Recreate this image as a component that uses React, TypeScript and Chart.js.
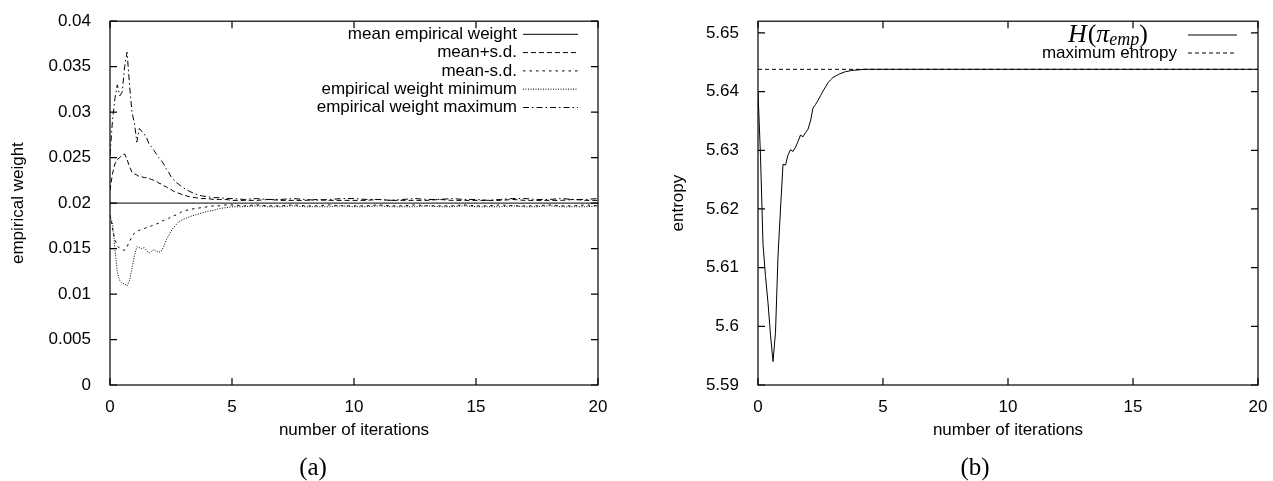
import React, { useEffect, useRef } from "react";
import { Chart, registerables } from "chart.js";
Chart.register(...registerables);

const FONT = "'Liberation Sans', Arial, Helvetica, sans-serif";
const SERIF = "'Liberation Serif', 'DejaVu Serif', serif";

// ---------- data ----------
const iterations = [
  0, 0.1, 0.2, 0.3, 0.4, 0.5, 0.6, 0.7, 0.8, 0.9, 1.0, 1.1, 1.2, 1.3, 1.4, 1.5, 1.6, 1.7, 1.8, 1.9,
  2.0, 2.1, 2.2, 2.3, 2.4, 2.5, 2.6, 2.7, 2.8, 2.9, 3.0, 3.25, 3.5, 3.75, 4.0, 4.25, 4.5, 4.75, 5.0,
  5.5, 6, 6.5, 7, 7.5, 8, 8.5, 9, 9.5, 10, 10.5, 11, 11.5, 12, 12.5, 13, 13.5, 14, 14.5, 15,
  15.5, 16, 16.5, 17, 17.5, 18, 18.5, 19, 19.5, 20,
];

const meanX = [0, 20];
const meanWeight = [0.02, 0.02];

const meanPlusSd = [
  0.0214, 0.0232, 0.0243, 0.0248, 0.025, 0.0253, 0.0254, 0.0248, 0.024, 0.0234, 0.0232, 0.0231, 0.0229,
  0.0229, 0.0228, 0.0228, 0.0227, 0.0226, 0.0225, 0.0224, 0.0222, 0.0221, 0.0219, 0.0218, 0.0216, 0.0215,
  0.0213, 0.0212, 0.0211, 0.021, 0.0209, 0.0207, 0.0206, 0.0205, 0.0205, 0.0204, 0.0204, 0.0204, 0.0203,
  0.0203, 0.0203, 0.0204, 0.0203, 0.0203, 0.0203, 0.0204, 0.0203, 0.0203, 0.0203, 0.0203, 0.0204, 0.0203,
  0.0203, 0.0203, 0.0203, 0.0204, 0.0203, 0.0203, 0.0203, 0.0203, 0.0203, 0.0204, 0.0203, 0.0203, 0.0203,
  0.0203, 0.0204, 0.0203, 0.0203,
];

const meanMinusSd = [
  0.0187, 0.0172, 0.016, 0.0153, 0.015, 0.0149, 0.0148, 0.0152, 0.0158, 0.0163, 0.0167, 0.0169, 0.017,
  0.0171, 0.0172, 0.0173, 0.0174, 0.0175, 0.0176, 0.0177, 0.0178, 0.018, 0.0181, 0.0182, 0.0183, 0.0185,
  0.0186, 0.0187, 0.0188, 0.019, 0.0191, 0.0193, 0.0194, 0.0195, 0.0196, 0.0197, 0.0197, 0.0198, 0.0198,
  0.0197, 0.0198, 0.0197, 0.0197, 0.0198, 0.0197, 0.0197, 0.0198, 0.0197, 0.0197, 0.0197, 0.0198, 0.0197,
  0.0197, 0.0198, 0.0197, 0.0197, 0.0197, 0.0198, 0.0197, 0.0197, 0.0198, 0.0197, 0.0197, 0.0197, 0.0198,
  0.0197, 0.0197, 0.0198, 0.0197,
];

const weightMin = [
  0.0186, 0.0178, 0.015, 0.0124, 0.0115, 0.0112, 0.0111, 0.0109, 0.0115, 0.0128, 0.0142, 0.0152, 0.0151,
  0.015, 0.0151, 0.0148, 0.0145, 0.0147, 0.0149, 0.0147, 0.0146, 0.0147, 0.0152, 0.0159, 0.0164, 0.0169,
  0.0173, 0.0176, 0.0179, 0.0181, 0.0182, 0.0185, 0.0187, 0.0189, 0.0191, 0.0192, 0.0194, 0.0195, 0.0196,
  0.0196, 0.0197, 0.0196, 0.0196, 0.0197, 0.0196, 0.0196, 0.0196, 0.0197, 0.0196, 0.0196, 0.0197, 0.0196,
  0.0196, 0.0196, 0.0197, 0.0196, 0.0196, 0.0197, 0.0196, 0.0196, 0.0196, 0.0197, 0.0196, 0.0196, 0.0197,
  0.0196, 0.0196, 0.0196, 0.0197,
];

const weightMax = [
  0.0253, 0.029, 0.0315, 0.033, 0.0318, 0.0322, 0.035, 0.0366, 0.033, 0.03, 0.0288, 0.0267, 0.0282,
  0.0279, 0.0276, 0.0272, 0.0265, 0.0262, 0.0258, 0.0254, 0.025, 0.0247, 0.0243, 0.0238, 0.0234, 0.0229,
  0.0226, 0.0223, 0.0221, 0.0219, 0.0217, 0.0213, 0.021, 0.0208, 0.0207, 0.0206, 0.0206, 0.0205, 0.0205,
  0.0204, 0.0205, 0.0204, 0.0204, 0.0205, 0.0204, 0.0203, 0.0204, 0.0205, 0.0205, 0.0204, 0.0204, 0.0203,
  0.0204, 0.0205, 0.0204, 0.0204, 0.0205, 0.0204, 0.0204, 0.0203, 0.0204, 0.0205, 0.0205, 0.0204, 0.0204,
  0.0205, 0.0204, 0.0204, 0.0205,
];

const entropy = [
  5.64, 5.629, 5.614, 5.6085, 5.604, 5.5985, 5.594, 5.599, 5.612, 5.62, 5.6276, 5.6275, 5.6292, 5.6301,
  5.6298, 5.6305, 5.6315, 5.6326, 5.6323, 5.633, 5.6336, 5.635, 5.6372, 5.6378, 5.6385, 5.6393, 5.6401,
  5.6408, 5.6415, 5.642, 5.6424, 5.643, 5.6434, 5.6436, 5.6437, 5.6438, 5.6438, 5.6438, 5.6438,
  5.6438, 5.6438, 5.6438, 5.6438, 5.6438, 5.6438, 5.6438, 5.6438, 5.6438, 5.6438, 5.6438, 5.6438, 5.6438,
  5.6438, 5.6438, 5.6438, 5.6438, 5.6438, 5.6438, 5.6438, 5.6438, 5.6438, 5.6438, 5.6438, 5.6438, 5.6438,
  5.6438, 5.6438, 5.6438, 5.6438,
];
const maxEntropyX = [0, 20];
const maxEntropy = [5.6438, 5.6438];

const xTickValues = [0, 5, 10, 15, 20];

// ---------- helpers ----------
const pts = (xs: number[], ys: number[]) => xs.map((x, i) => ({ x, y: ys[i] }));
const fmt = (v: number, d: number) => String(Number(Number(v).toFixed(d)));

const framePlugin = {
  id: "gnuFrame",
  afterDatasetsDraw(chart: any) {
    const { ctx, chartArea: a, scales } = chart;
    const L = 7;
    ctx.save();
    ctx.strokeStyle = "#000";
    ctx.lineWidth = 1.2;
    ctx.setLineDash([]);
    ctx.strokeRect(a.left, a.top, a.right - a.left, a.bottom - a.top);
    ctx.beginPath();
    scales.x.ticks.forEach((t: any) => {
      const px = scales.x.getPixelForValue(t.value);
      ctx.moveTo(px, a.bottom);
      ctx.lineTo(px, a.bottom - L);
      ctx.moveTo(px, a.top);
      ctx.lineTo(px, a.top + L);
    });
    scales.y.ticks.forEach((t: any) => {
      const py = scales.y.getPixelForValue(t.value);
      ctx.moveTo(a.left, py);
      ctx.lineTo(a.left + L, py);
      ctx.moveTo(a.right, py);
      ctx.lineTo(a.right - L, py);
    });
    ctx.stroke();
    ctx.restore();
  },
};

const keyPlugin = {
  id: "gnuKey",
  afterDatasetsDraw(chart: any, _args: any, opts: any) {
    const { ctx } = chart;
    opts.items.forEach((it: any, i: number) => {
      const y = opts.top + i * opts.step;
      const ds = chart.data.datasets[it.ds];
      ctx.save();
      ctx.fillStyle = "#000";
      ctx.textBaseline = "middle";
      if (it.rich) {
        let w = 0;
        it.rich.forEach((p: any) => {
          ctx.font = p.font;
          w += ctx.measureText(p.t).width + (p.kern || 0);
        });
        let x = it.textRight - w;
        ctx.textAlign = "left";
        it.rich.forEach((p: any) => {
          ctx.font = p.font;
          ctx.fillText(p.t, x, y + (p.dy || 0));
          x += ctx.measureText(p.t).width + (p.kern || 0);
        });
      } else {
        ctx.font = `17px ${FONT}`;
        ctx.textAlign = "right";
        ctx.fillText(ds.label, it.textRight, y);
      }
      ctx.strokeStyle = ds.borderColor;
      ctx.lineWidth = ds.borderWidth;
      ctx.setLineDash(ds.borderDash || []);
      ctx.beginPath();
      ctx.moveTo(opts.x1, y);
      ctx.lineTo(opts.x2, y);
      ctx.stroke();
      ctx.restore();
    });
  },
};

const tickFont = { family: FONT, size: 17 };

function xScale() {
  return {
    type: "linear",
    min: 0,
    max: 20,
    afterBuildTicks: (s: any) => {
      s.ticks = xTickValues.map((v) => ({ value: v }));
    },
    ticks: { color: "#000", font: tickFont, padding: 4, maxRotation: 0, callback: (v: any) => fmt(v, 0) },
    grid: { display: false },
    border: { display: false },
    title: {
      display: true,
      text: "number of iterations",
      color: "#000",
      font: tickFont,
      padding: { top: 0, bottom: 40 },
    },
    afterFit: (s: any) => {
      s.height = 96;
    },
  };
}

function PlotA() {
  const ref = useRef<HTMLCanvasElement>(null);
  useEffect(() => {
    const line = (label: string, ys: number[], dash: number[], xs = iterations) => ({
      label,
      data: pts(xs, ys),
      borderColor: "#000",
      borderWidth: 1,
      borderDash: dash,
      pointRadius: 0,
      tension: 0,
      fill: false,
    });
    const chart = new Chart(ref.current!, {
      type: "line",
      data: {
        datasets: [
          line("mean empirical weight", meanWeight, [], meanX),
          line("mean+s.d.", meanPlusSd, [5, 3]),
          line("mean-s.d.", meanMinusSd, [2.5, 4]),
          line("empirical weight minimum", weightMin, [1, 1.5]),
          line("empirical weight maximum", weightMax, [6, 3, 1.5, 3]),
        ],
      },
      options: {
        animation: false,
        responsive: false,
        devicePixelRatio: 1,
        parsing: false,
        layout: { padding: { left: 0, top: 18, right: 38, bottom: 0 } },
        plugins: {
          legend: { display: false },
          tooltip: { enabled: false },
          gnuKey: {
            top: 34.3,
            step: 18.3,
            x1: 523,
            x2: 578,
            items: [0, 1, 2, 3, 4].map((ds) => ({ ds, textRight: 517 })),
          },
        },
        scales: {
          x: xScale(),
          y: {
            type: "linear",
            min: 0,
            max: 0.04,
            ticks: { stepSize: 0.005, color: "#000", font: tickFont, padding: 11, callback: (v: any) => fmt(v, 4) },
            grid: { display: false },
            border: { display: false },
            title: {
              display: true,
              text: "empirical weight",
              color: "#000",
              font: tickFont,
              padding: { top: 8, bottom: 0 },
            },
            afterFit: (s: any) => {
              s.width = 110;
            },
          },
        },
      } as any,
      plugins: [framePlugin, keyPlugin],
    } as any);
    return () => chart.destroy();
  }, []);
  return (
    <canvas
      ref={ref}
      width={636}
      height={481}
      style={{ position: "absolute", left: 0, top: 0, width: 636, height: 481 }}
    />
  );
}

function PlotB() {
  const ref = useRef<HTMLCanvasElement>(null);
  useEffect(() => {
    const chart = new Chart(ref.current!, {
      type: "line",
      data: {
        datasets: [
          {
            label: "H(π_emp)",
            data: pts(iterations, entropy),
            borderColor: "#000",
            borderWidth: 1,
            borderDash: [],
            pointRadius: 0,
            tension: 0,
            fill: false,
          },
          {
            label: "maximum entropy",
            data: pts(maxEntropyX, maxEntropy),
            borderColor: "#000",
            borderWidth: 1,
            borderDash: [4, 3],
            pointRadius: 0,
            tension: 0,
            fill: false,
          },
        ],
      },
      options: {
        animation: false,
        responsive: false,
        devicePixelRatio: 1,
        parsing: false,
        layout: { padding: { left: 0, top: 18, right: 15, bottom: 0 } },
        plugins: {
          legend: { display: false },
          tooltip: { enabled: false },
          gnuKey: {
            top: 35,
            step: 18,
            x1: 552,
            x2: 601,
            items: [
              {
                ds: 0,
                textRight: 512,
                rich: [
                  { t: "H", font: `italic 26px ${SERIF}`, kern: 1 },
                  { t: "(", font: `26px ${SERIF}` },
                  { t: "π", font: `italic 26px ${SERIF}` },
                  { t: "emp", font: `italic 18px ${SERIF}`, dy: 5 },
                  { t: ")", font: `26px ${SERIF}` },
                ],
              },
              { ds: 1, textRight: 541 },
            ],
          },
        },
        scales: {
          x: xScale(),
          y: {
            type: "linear",
            min: 5.59,
            max: 5.652,
            ticks: {
              stepSize: 0.01,
              includeBounds: false,
              color: "#000",
              font: tickFont,
              padding: 11,
              callback: (v: any) => fmt(v, 3),
            },
            grid: { display: false },
            border: { display: false },
            title: {
              display: true,
              text: "entropy",
              color: "#000",
              font: tickFont,
              padding: { top: 32, bottom: 0 },
            },
            afterFit: (s: any) => {
              s.width = 122;
            },
          },
        },
      } as any,
      plugins: [framePlugin, keyPlugin],
    } as any);
    return () => chart.destroy();
  }, []);
  return (
    <canvas
      ref={ref}
      width={637}
      height={481}
      style={{ position: "absolute", left: 636, top: 0, width: 637, height: 481 }}
    />
  );
}

const captionStyle = (cx: number): React.CSSProperties => ({
  position: "absolute",
  left: cx - 50,
  top: 452,
  width: 100,
  textAlign: "center",
  fontFamily: SERIF,
  fontSize: 25,
  lineHeight: "30px",
  color: "#000",
});

export default function App() {
  useEffect(() => {
    document.body.style.margin = "0";
  }, []);
  return (
    <div style={{ position: "absolute", left: 0, top: 0, width: 1273, height: 481, background: "#fff", overflow: "hidden" }}>
      <PlotA />
      <PlotB />
      <div style={captionStyle(313)}>(a)</div>
      <div style={captionStyle(975)}>(b)</div>
    </div>
  );
}
